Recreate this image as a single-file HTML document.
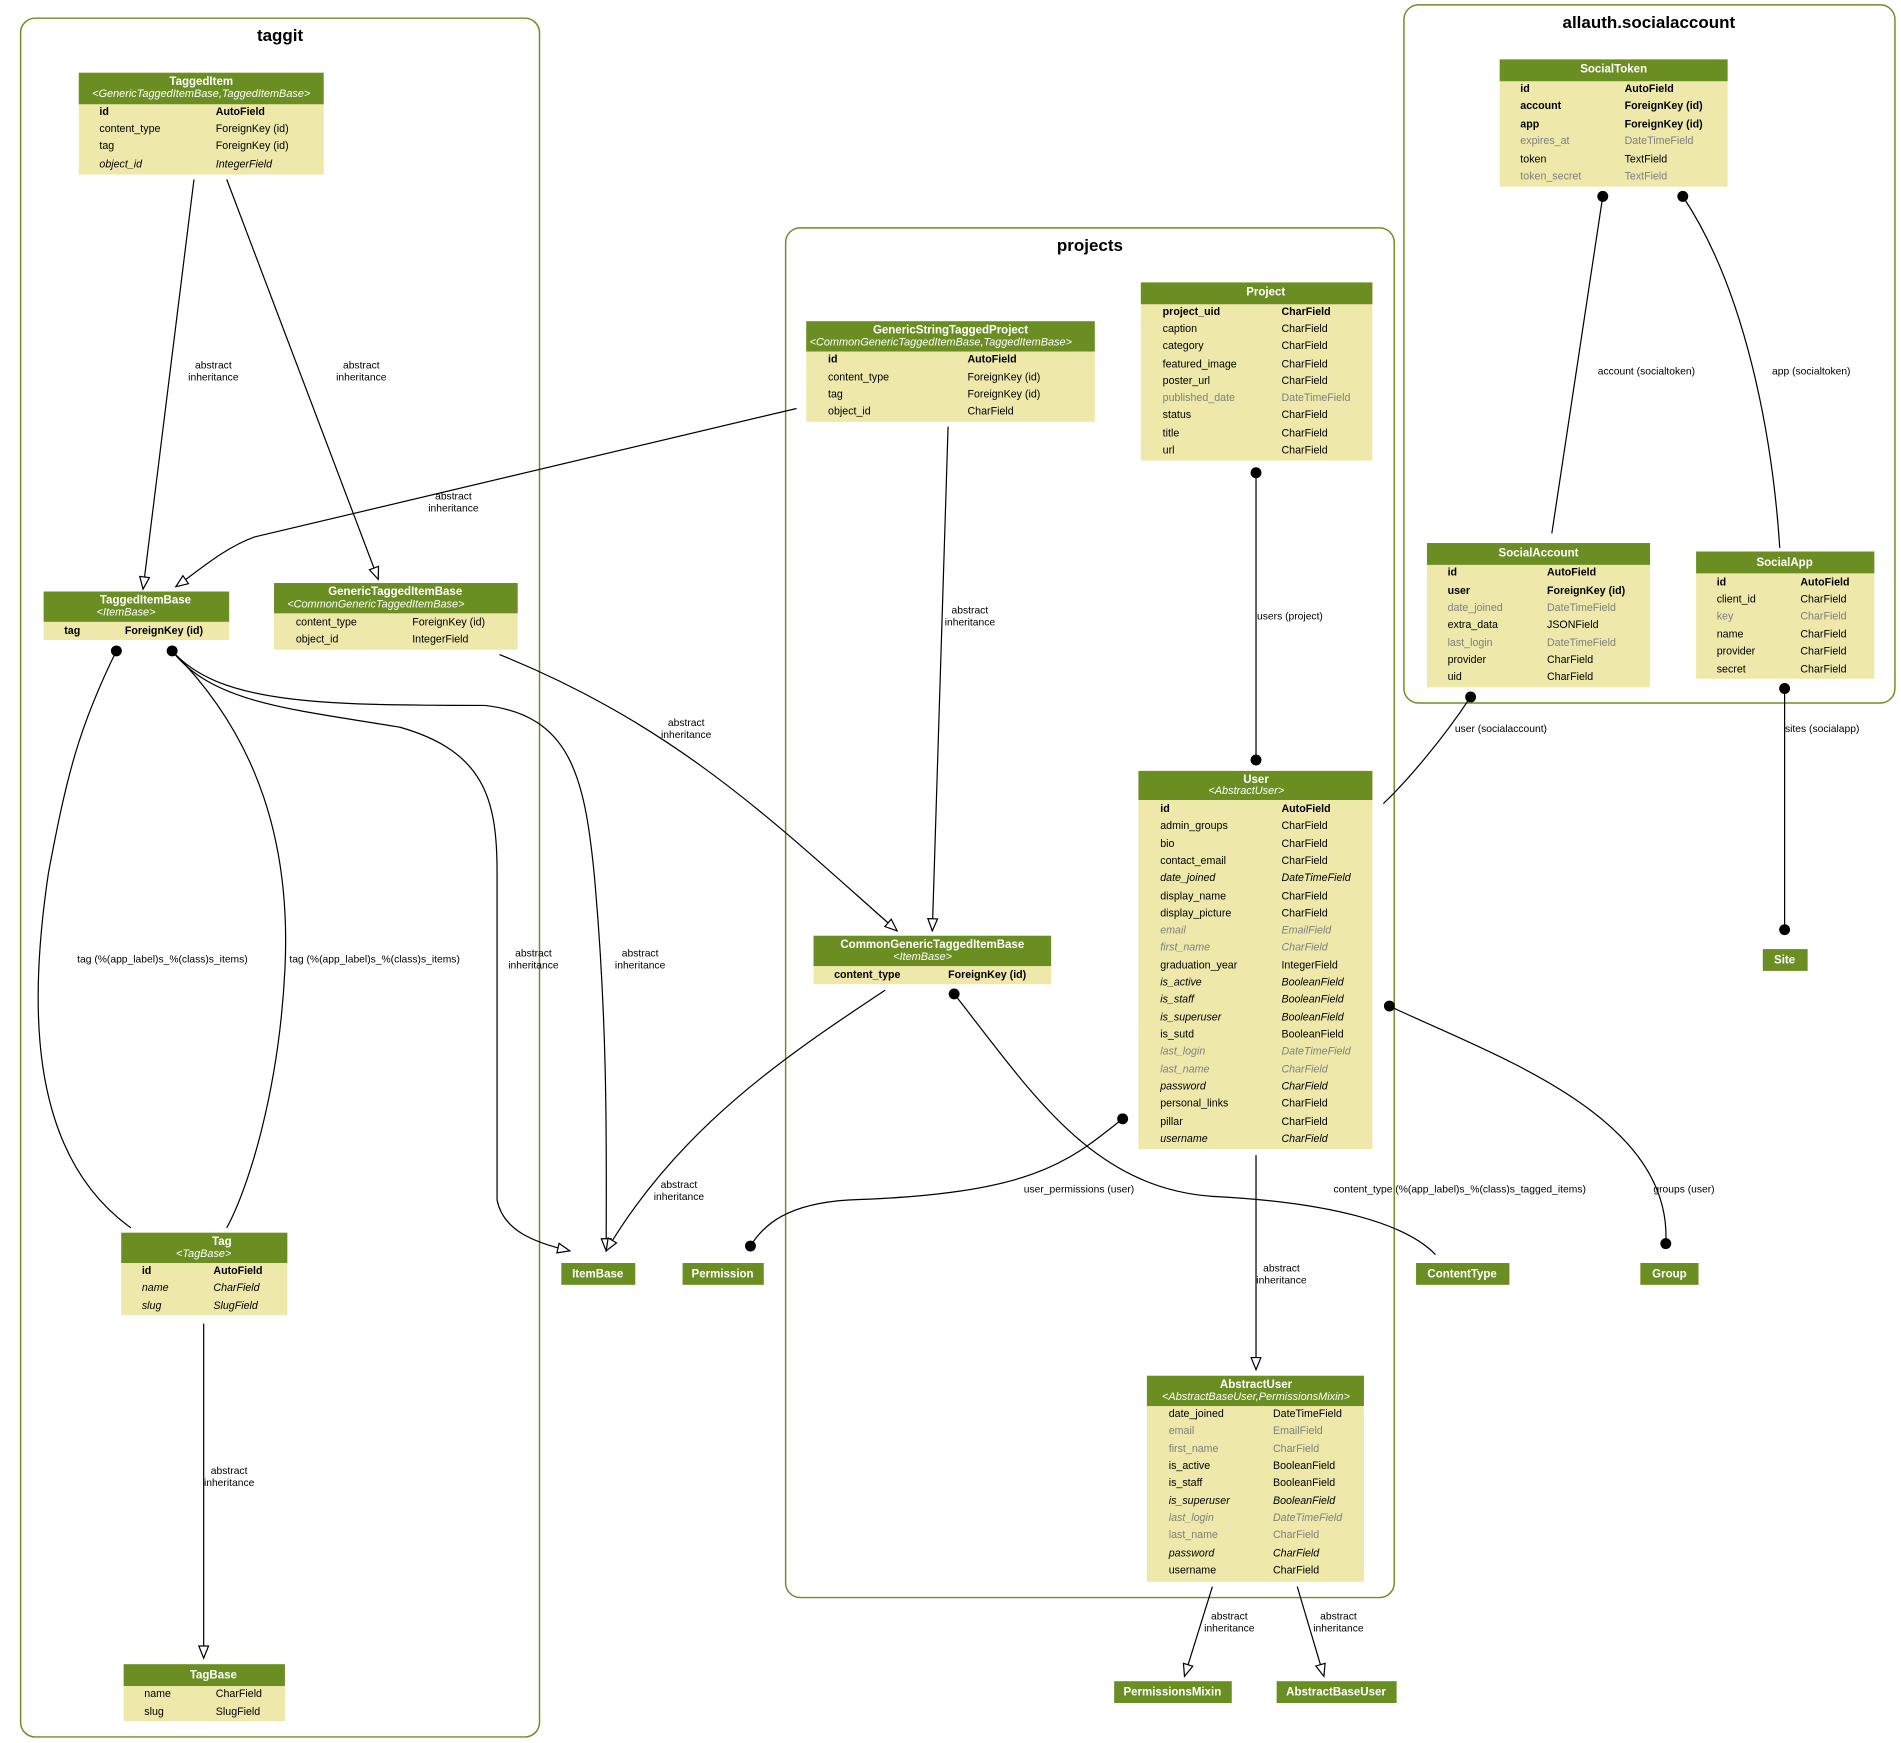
<!DOCTYPE html>
<html><head><meta charset="utf-8"><style>
html,body{margin:0;padding:0;background:#fff;}
svg{display:block;}
text{font-family:"Liberation Sans",Arial,sans-serif;}
.h{fill:#6b8e23}.b{fill:#eee8aa}
.t{font-size:9.5px;font-weight:bold;fill:#fff;text-anchor:middle}
.s{font-size:9px;font-style:italic;fill:#fff;text-anchor:middle}
.f{font-size:8.8px;fill:#000}
.B{font-weight:bold}.I{font-style:italic}.G{fill:#7f7f7f}
.l{font-size:8.5px;fill:#000;text-anchor:middle}
.c{fill:none;stroke:#6b8e23;stroke-width:1.2}
.e{fill:none;stroke:#000;stroke-width:1}
.ct{font-size:14px;font-weight:bold;text-anchor:middle}
</style></head><body>
<svg width="1901" height="1743" viewBox="0 0 1568 1438" preserveAspectRatio="none" xmlns="http://www.w3.org/2000/svg">
<defs>
<marker id="a" markerWidth="12" markerHeight="10" refX="11" refY="5" orient="auto" markerUnits="userSpaceOnUse"><path d="M1,1 L11,5 L1,9 Z" fill="#fff" stroke="#000" stroke-width="1"/></marker>
</defs>
<rect x="0" y="0" width="1568" height="1438" fill="#fff"/>
<!-- clusters -->
<rect class="c" x="17" y="15" width="428" height="1418" rx="12"/>
<text class="ct" x="231" y="34">taggit</text>
<rect class="c" x="648" y="188" width="502" height="1130" rx="12"/>
<text class="ct" x="899" y="207">projects</text>
<rect class="c" x="1158" y="4" width="405" height="576" rx="12"/>
<text class="ct" x="1360" y="23">allauth.socialaccount</text>

<!-- edges -->
<g class="e">
<path d="M160,148 L118,486" marker-end="url(#a)"/>
<path d="M187,148 L312,478" marker-end="url(#a)"/>
<path d="M657,337 L210,443 C185,452 165,470 145,484" marker-end="url(#a)"/>
<path d="M782,352 L769,768" marker-end="url(#a)"/>
<path d="M412,540 C560,600 640,680 740,768" marker-end="url(#a)"/>
<path d="M96,537 C65,600 55,640 40,720 C25,820 20,950 108,1013"/>
<path d="M142,537 C215,610 240,700 235,800 C230,900 205,980 187,1013"/>
<path d="M142,537 C175,580 240,585 330,600 C400,620 410,660 410,720 L410,990 C415,1015 440,1025 470,1032" marker-end="url(#a)"/>
<path d="M142,537 C180,580 260,582 400,582 C470,590 482,640 490,720 C502,850 500,960 500,1032" marker-end="url(#a)"/>
<path d="M730,817 C650,870 560,930 500,1032" marker-end="url(#a)"/>
<path d="M1036,390 L1036,627"/>
<path d="M1322,162 L1280,440"/>
<path d="M1388,162 C1440,240 1462,360 1468,452"/>
<path d="M1213,575 C1190,610 1160,645 1141,663"/>
<path d="M1472,568 L1472,767"/>
<path d="M1146,830 C1230,870 1380,920 1374,1026"/>
<path d="M926,923 C880,960 850,985 700,990 C650,993 630,1010 619,1028"/>
<path d="M787,820 C850,900 900,980 1000,987 C1100,992 1160,1010 1184,1035"/>
<path d="M1036,953 L1036,1130" marker-end="url(#a)"/>
<path d="M1000,1309 L977,1383" marker-end="url(#a)"/>
<path d="M1070,1309 L1092,1383" marker-end="url(#a)"/>
<path d="M168,1092 L168,1368" marker-end="url(#a)"/>
</g>
<g fill="#000">
<circle cx="96" cy="537" r="4.5"/><circle cx="142" cy="537" r="4.5"/>
<circle cx="1036" cy="390" r="4.5"/><circle cx="1036" cy="627" r="4.5"/>
<circle cx="1322" cy="162" r="4.5"/><circle cx="1388" cy="162" r="4.5"/>
<circle cx="1213" cy="575" r="4.5"/><circle cx="1472" cy="568" r="4.5"/><circle cx="1472" cy="767" r="4.5"/>
<circle cx="1146" cy="830" r="4.5"/><circle cx="1374" cy="1026" r="4.5"/>
<circle cx="926" cy="923" r="4.5"/><circle cx="619" cy="1028" r="4.5"/>
<circle cx="787" cy="820" r="4.5"/>
</g>
<!-- edge labels -->
<g>
<text class="l" x="176" y="304">abstract</text><text class="l" x="176" y="314">inheritance</text>
<text class="l" x="298" y="304">abstract</text><text class="l" x="298" y="314">inheritance</text>
<text class="l" x="374" y="412">abstract</text><text class="l" x="374" y="422">inheritance</text>
<text class="l" x="800" y="506">abstract</text><text class="l" x="800" y="516">inheritance</text>
<text class="l" x="566" y="599">abstract</text><text class="l" x="566" y="609">inheritance</text>
<text class="l" x="134" y="794">tag (%(app_label)s_%(class)s_items)</text>
<text class="l" x="309" y="794">tag (%(app_label)s_%(class)s_items)</text>
<text class="l" x="440" y="789">abstract</text><text class="l" x="440" y="799">inheritance</text>
<text class="l" x="528" y="789">abstract</text><text class="l" x="528" y="799">inheritance</text>
<text class="l" x="560" y="980">abstract</text><text class="l" x="560" y="990">inheritance</text>
<text class="l" x="1064" y="511">users (project)</text>
<text class="l" x="1358" y="309">account (socialtoken)</text>
<text class="l" x="1494" y="309">app (socialtoken)</text>
<text class="l" x="1238" y="604">user (socialaccount)</text>
<text class="l" x="1503" y="604">sites (socialapp)</text>
<text class="l" x="1389" y="984">groups (user)</text>
<text class="l" x="890" y="984">user_permissions (user)</text>
<text class="l" x="1204" y="984">content_type (%(app_label)s_%(class)s_tagged_items)</text>
<text class="l" x="1057" y="1049">abstract</text><text class="l" x="1057" y="1059">inheritance</text>
<text class="l" x="1014" y="1336">abstract</text><text class="l" x="1014" y="1346">inheritance</text>
<text class="l" x="1104" y="1336">abstract</text><text class="l" x="1104" y="1346">inheritance</text>
<text class="l" x="189" y="1216">abstract</text><text class="l" x="189" y="1226">inheritance</text>
</g>

<!-- TaggedItem -->
<rect class="b" x="65" y="60" width="202" height="84"/><rect class="h" x="65" y="60" width="202" height="26"/>
<text class="t" x="166" y="70">TaggedItem</text><text class="s" x="166" y="80">&lt;GenericTaggedItemBase,TaggedItemBase&gt;</text>
<text class="f B" x="82" y="95">id</text><text class="f B" x="178" y="95">AutoField</text>
<text class="f" x="82" y="109">content_type</text><text class="f" x="178" y="109">ForeignKey (id)</text>
<text class="f" x="82" y="123">tag</text><text class="f" x="178" y="123">ForeignKey (id)</text>
<text class="f I" x="82" y="138">object_id</text><text class="f I" x="178" y="138">IntegerField</text>

<!-- TaggedItemBase -->
<rect class="b" x="36" y="488" width="153" height="40"/><rect class="h" x="36" y="488" width="153" height="25"/>
<text class="t" x="120" y="498">TaggedItemBase</text><text class="s" x="104" y="508">&lt;ItemBase&gt;</text>
<text class="f B" x="53" y="523">tag</text><text class="f B" x="103" y="523">ForeignKey (id)</text>

<!-- GenericTaggedItemBase -->
<rect class="b" x="226" y="481" width="201" height="55"/><rect class="h" x="226" y="481" width="201" height="25"/>
<text class="t" x="326" y="491">GenericTaggedItemBase</text><text class="s" x="310" y="501">&lt;CommonGenericTaggedItemBase&gt;</text>
<text class="f" x="244" y="516">content_type</text><text class="f" x="340" y="516">ForeignKey (id)</text>
<text class="f" x="244" y="530">object_id</text><text class="f" x="340" y="530">IntegerField</text>

<!-- Tag -->
<rect class="b" x="100" y="1017" width="137" height="68"/><rect class="h" x="100" y="1017" width="137" height="25"/>
<text class="t" x="183" y="1027">Tag</text><text class="s" x="168" y="1037">&lt;TagBase&gt;</text>
<text class="f B" x="117" y="1051">id</text><text class="f B" x="176" y="1051">AutoField</text>
<text class="f I" x="117" y="1065">name</text><text class="f I" x="176" y="1065">CharField</text>
<text class="f I" x="117" y="1080">slug</text><text class="f I" x="176" y="1080">SlugField</text>

<!-- TagBase -->
<rect class="b" x="102" y="1373" width="133" height="47"/><rect class="h" x="102" y="1373" width="133" height="18"/>
<text class="t" x="176" y="1385">TagBase</text>
<text class="f" x="119" y="1400">name</text><text class="f" x="178" y="1400">CharField</text>
<text class="f" x="119" y="1415">slug</text><text class="f" x="178" y="1415">SlugField</text>

<!-- GenericStringTaggedProject -->
<rect class="b" x="665" y="265" width="238" height="83"/><rect class="h" x="665" y="265" width="238" height="25"/>
<text class="t" x="784" y="275">GenericStringTaggedProject</text><text class="s" x="776" y="285">&lt;CommonGenericTaggedItemBase,TaggedItemBase&gt;</text>
<text class="f B" x="683" y="299">id</text><text class="f B" x="798" y="299">AutoField</text>
<text class="f" x="683" y="314">content_type</text><text class="f" x="798" y="314">ForeignKey (id)</text>
<text class="f" x="683" y="328">tag</text><text class="f" x="798" y="328">ForeignKey (id)</text>
<text class="f" x="683" y="342">object_id</text><text class="f" x="798" y="342">CharField</text>

<!-- Project -->
<rect class="b" x="941" y="233" width="191" height="147"/><rect class="h" x="941" y="233" width="191" height="18"/>
<text class="t" x="1044" y="244">Project</text>
<text class="f B" x="959" y="260">project_uid</text><text class="f B" x="1057" y="260">CharField</text>
<text class="f" x="959" y="274">caption</text><text class="f" x="1057" y="274">CharField</text>
<text class="f" x="959" y="288">category</text><text class="f" x="1057" y="288">CharField</text>
<text class="f" x="959" y="303">featured_image</text><text class="f" x="1057" y="303">CharField</text>
<text class="f" x="959" y="317">poster_url</text><text class="f" x="1057" y="317">CharField</text>
<text class="f G" x="959" y="331">published_date</text><text class="f G" x="1057" y="331">DateTimeField</text>
<text class="f" x="959" y="345">status</text><text class="f" x="1057" y="345">CharField</text>
<text class="f" x="959" y="360">title</text><text class="f" x="1057" y="360">CharField</text>
<text class="f" x="959" y="374">url</text><text class="f" x="1057" y="374">CharField</text>

<!-- CommonGenericTaggedItemBase -->
<rect class="b" x="671" y="772" width="196" height="40"/><rect class="h" x="671" y="772" width="196" height="25"/>
<text class="t" x="769" y="782">CommonGenericTaggedItemBase</text><text class="s" x="761" y="792">&lt;ItemBase&gt;</text>
<text class="f B" x="688" y="807">content_type</text><text class="f B" x="782" y="807">ForeignKey (id)</text>

<!-- User -->
<rect class="b" x="939" y="636" width="193" height="312"/><rect class="h" x="939" y="636" width="193" height="24"/>
<text class="t" x="1036" y="646">User</text><text class="s" x="1028" y="655">&lt;AbstractUser&gt;</text>
<g>
<text class="f B" x="957" y="670">id</text><text class="f B" x="1057" y="670">AutoField</text>
<text class="f" x="957" y="684">admin_groups</text><text class="f" x="1057" y="684">CharField</text>
<text class="f" x="957" y="699">bio</text><text class="f" x="1057" y="699">CharField</text>
<text class="f" x="957" y="713">contact_email</text><text class="f" x="1057" y="713">CharField</text>
<text class="f I" x="957" y="727">date_joined</text><text class="f I" x="1057" y="727">DateTimeField</text>
<text class="f" x="957" y="742">display_name</text><text class="f" x="1057" y="742">CharField</text>
<text class="f" x="957" y="756">display_picture</text><text class="f" x="1057" y="756">CharField</text>
<text class="f G I" x="957" y="770">email</text><text class="f G I" x="1057" y="770">EmailField</text>
<text class="f G I" x="957" y="784">first_name</text><text class="f G I" x="1057" y="784">CharField</text>
<text class="f" x="957" y="799">graduation_year</text><text class="f" x="1057" y="799">IntegerField</text>
<text class="f I" x="957" y="813">is_active</text><text class="f I" x="1057" y="813">BooleanField</text>
<text class="f I" x="957" y="827">is_staff</text><text class="f I" x="1057" y="827">BooleanField</text>
<text class="f I" x="957" y="842">is_superuser</text><text class="f I" x="1057" y="842">BooleanField</text>
<text class="f" x="957" y="856">is_sutd</text><text class="f" x="1057" y="856">BooleanField</text>
<text class="f G I" x="957" y="870">last_login</text><text class="f G I" x="1057" y="870">DateTimeField</text>
<text class="f G I" x="957" y="885">last_name</text><text class="f G I" x="1057" y="885">CharField</text>
<text class="f I" x="957" y="899">password</text><text class="f I" x="1057" y="899">CharField</text>
<text class="f" x="957" y="913">personal_links</text><text class="f" x="1057" y="913">CharField</text>
<text class="f" x="957" y="928">pillar</text><text class="f" x="1057" y="928">CharField</text>
<text class="f I" x="957" y="942">username</text><text class="f I" x="1057" y="942">CharField</text>
</g>

<!-- AbstractUser -->
<rect class="b" x="946" y="1135" width="179" height="170"/><rect class="h" x="946" y="1135" width="179" height="25"/>
<text class="t" x="1036" y="1145">AbstractUser</text><text class="s" x="1036" y="1155">&lt;AbstractBaseUser,PermissionsMixin&gt;</text>
<text class="f" x="964" y="1169">date_joined</text><text class="f" x="1050" y="1169">DateTimeField</text>
<text class="f G" x="964" y="1183">email</text><text class="f G" x="1050" y="1183">EmailField</text>
<text class="f G" x="964" y="1198">first_name</text><text class="f G" x="1050" y="1198">CharField</text>
<text class="f" x="964" y="1212">is_active</text><text class="f" x="1050" y="1212">BooleanField</text>
<text class="f" x="964" y="1226">is_staff</text><text class="f" x="1050" y="1226">BooleanField</text>
<text class="f I" x="964" y="1241">is_superuser</text><text class="f I" x="1050" y="1241">BooleanField</text>
<text class="f G I" x="964" y="1255">last_login</text><text class="f G I" x="1050" y="1255">DateTimeField</text>
<text class="f G" x="964" y="1269">last_name</text><text class="f G" x="1050" y="1269">CharField</text>
<text class="f I" x="964" y="1284">password</text><text class="f I" x="1050" y="1284">CharField</text>
<text class="f" x="964" y="1298">username</text><text class="f" x="1050" y="1298">CharField</text>

<!-- SocialToken -->
<rect class="b" x="1237" y="49" width="188" height="105"/><rect class="h" x="1237" y="49" width="188" height="18"/>
<text class="t" x="1331" y="60">SocialToken</text>
<text class="f B" x="1254" y="76">id</text><text class="f B" x="1340" y="76">AutoField</text>
<text class="f B" x="1254" y="90">account</text><text class="f B" x="1340" y="90">ForeignKey (id)</text>
<text class="f B" x="1254" y="105">app</text><text class="f B" x="1340" y="105">ForeignKey (id)</text>
<text class="f G" x="1254" y="119">expires_at</text><text class="f G" x="1340" y="119">DateTimeField</text>
<text class="f" x="1254" y="134">token</text><text class="f" x="1340" y="134">TextField</text>
<text class="f G" x="1254" y="148">token_secret</text><text class="f G" x="1340" y="148">TextField</text>

<!-- SocialAccount -->
<rect class="b" x="1177" y="448" width="184" height="119"/><rect class="h" x="1177" y="448" width="184" height="18"/>
<text class="t" x="1269" y="459">SocialAccount</text>
<text class="f B" x="1194" y="475">id</text><text class="f B" x="1276" y="475">AutoField</text>
<text class="f B" x="1194" y="490">user</text><text class="f B" x="1276" y="490">ForeignKey (id)</text>
<text class="f G" x="1194" y="504">date_joined</text><text class="f G" x="1276" y="504">DateTimeField</text>
<text class="f" x="1194" y="518">extra_data</text><text class="f" x="1276" y="518">JSONField</text>
<text class="f G" x="1194" y="533">last_login</text><text class="f G" x="1276" y="533">DateTimeField</text>
<text class="f" x="1194" y="547">provider</text><text class="f" x="1276" y="547">CharField</text>
<text class="f" x="1194" y="561">uid</text><text class="f" x="1276" y="561">CharField</text>

<!-- SocialApp -->
<rect class="b" x="1399" y="455" width="147" height="105"/><rect class="h" x="1399" y="455" width="147" height="18"/>
<text class="t" x="1472" y="467">SocialApp</text>
<text class="f B" x="1416" y="483">id</text><text class="f B" x="1485" y="483">AutoField</text>
<text class="f" x="1416" y="497">client_id</text><text class="f" x="1485" y="497">CharField</text>
<text class="f G" x="1416" y="511">key</text><text class="f G" x="1485" y="511">CharField</text>
<text class="f" x="1416" y="526">name</text><text class="f" x="1485" y="526">CharField</text>
<text class="f" x="1416" y="540">provider</text><text class="f" x="1485" y="540">CharField</text>
<text class="f" x="1416" y="555">secret</text><text class="f" x="1485" y="555">CharField</text>

<!-- simple nodes -->
<rect class="h" x="463" y="1042" width="61" height="18"/><text class="t" x="493" y="1054">ItemBase</text>
<rect class="h" x="563" y="1042" width="67" height="18"/><text class="t" x="596" y="1054">Permission</text>
<rect class="h" x="1168" y="1042" width="77" height="18"/><text class="t" x="1206" y="1054">ContentType</text>
<rect class="h" x="1353" y="1042" width="48" height="18"/><text class="t" x="1377" y="1054">Group</text>
<rect class="h" x="1454" y="783" width="37" height="18"/><text class="t" x="1472" y="795">Site</text>
<rect class="h" x="919" y="1387" width="97" height="18"/><text class="t" x="967" y="1399">PermissionsMixin</text>
<rect class="h" x="1053" y="1387" width="99" height="18"/><text class="t" x="1102" y="1399">AbstractBaseUser</text>
</svg>
</body></html>
